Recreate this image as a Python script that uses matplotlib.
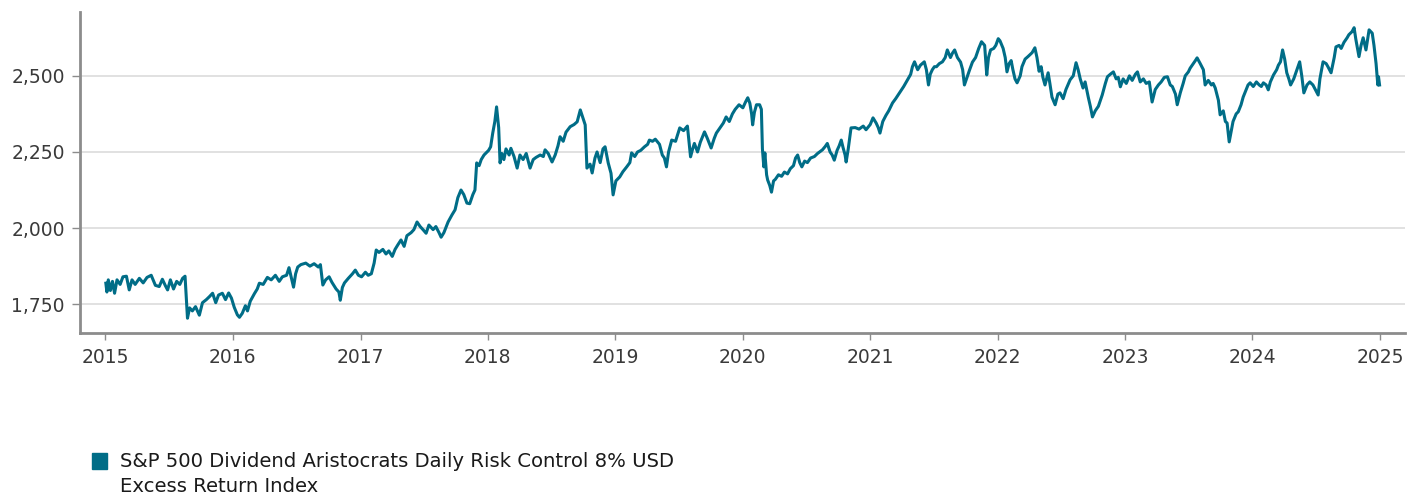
import matplotlib
matplotlib.use("Agg")
import matplotlib.pyplot as plt
import matplotlib.dates as mdates
import pandas as pd
from matplotlib.patches import Rectangle
from matplotlib.ticker import FuncFormatter, FixedLocator

LINE_COLOR = "#006d87"
LABEL = "S&P 500 Dividend Aristocrats Daily Risk Control 8% USD\nExcess Return Index"

# index level
dates = [
    "2015-01-02", "2015-01-05", "2015-01-09", "2015-01-15", "2015-01-21", "2015-01-27", "2015-02-03", "2015-02-12",
    "2015-02-20", "2015-03-02", "2015-03-10", "2015-03-18", "2015-03-27", "2015-04-08", "2015-04-19", "2015-04-30",
    "2015-05-12", "2015-05-24", "2015-06-04", "2015-06-13", "2015-06-22", "2015-06-28", "2015-07-06", "2015-07-15",
    "2015-07-24", "2015-08-02", "2015-08-10", "2015-08-17", "2015-08-24", "2015-08-30", "2015-09-07", "2015-09-16",
    "2015-09-27", "2015-10-06", "2015-10-17", "2015-10-26", "2015-11-04", "2015-11-13", "2015-11-21", "2015-12-02",
    "2015-12-11", "2015-12-20", "2015-12-28",
    "2016-01-05", "2016-01-14", "2016-01-20", "2016-01-28", "2016-02-06", "2016-02-12", "2016-02-20", "2016-03-03",
    "2016-03-11", "2016-03-17", "2016-03-28", "2016-04-09", "2016-04-20", "2016-05-02", "2016-05-13", "2016-05-22",
    "2016-06-03", "2016-06-10", "2016-06-23", "2016-06-29", "2016-07-05", "2016-07-14", "2016-07-28", "2016-08-09",
    "2016-08-21", "2016-09-02", "2016-09-08", "2016-09-15", "2016-09-23", "2016-10-03", "2016-10-11", "2016-10-23",
    "2016-10-31", "2016-11-04", "2016-11-10", "2016-11-16", "2016-11-27", "2016-12-09", "2016-12-17", "2016-12-26",
    "2017-01-04", "2017-01-15", "2017-01-23", "2017-02-01", "2017-02-09", "2017-02-15", "2017-02-23", "2017-03-06",
    "2017-03-15", "2017-03-23", "2017-04-02", "2017-04-10", "2017-04-18", "2017-04-27", "2017-05-06", "2017-05-14",
    "2017-05-26", "2017-06-03", "2017-06-12", "2017-06-21", "2017-06-29", "2017-07-08", "2017-07-16", "2017-07-28",
    "2017-08-05", "2017-08-14", "2017-08-20", "2017-08-28", "2017-09-09", "2017-09-20", "2017-09-29", "2017-10-07",
    "2017-10-16", "2017-10-24", "2017-11-02", "2017-11-10", "2017-11-19", "2017-11-25", "2017-11-30", "2017-12-07",
    "2017-12-13", "2017-12-21",
    "2018-01-03", "2018-01-09", "2018-01-15", "2018-01-21", "2018-01-26", "2018-02-01", "2018-02-05", "2018-02-10",
    "2018-02-16", "2018-02-22", "2018-03-03", "2018-03-08", "2018-03-17", "2018-03-26", "2018-04-03", "2018-04-12",
    "2018-04-21", "2018-05-02", "2018-05-11", "2018-05-19", "2018-05-31", "2018-06-09", "2018-06-14", "2018-06-23",
    "2018-07-04", "2018-07-13", "2018-07-21", "2018-07-27", "2018-08-05", "2018-08-13", "2018-08-25", "2018-09-05",
    "2018-09-14", "2018-09-23", "2018-10-01", "2018-10-07", "2018-10-12", "2018-10-21", "2018-10-27", "2018-11-04",
    "2018-11-10", "2018-11-19", "2018-11-27", "2018-12-03", "2018-12-12", "2018-12-20", "2018-12-26",
    "2019-01-03", "2019-01-14", "2019-01-23", "2019-02-03", "2019-02-12", "2019-02-17", "2019-02-26", "2019-03-06",
    "2019-03-15", "2019-03-26", "2019-04-04", "2019-04-09", "2019-04-18", "2019-04-26", "2019-05-08", "2019-05-16",
    "2019-05-22", "2019-05-28", "2019-06-03", "2019-06-12", "2019-06-23", "2019-07-05", "2019-07-16", "2019-07-27",
    "2019-08-05", "2019-08-11", "2019-08-16", "2019-08-25", "2019-09-02", "2019-09-14", "2019-09-22", "2019-10-03",
    "2019-10-12", "2019-10-18", "2019-10-29", "2019-11-07", "2019-11-15", "2019-11-24", "2019-12-03", "2019-12-11",
    "2019-12-22",
    "2020-01-02", "2020-01-10", "2020-01-16", "2020-01-22", "2020-01-27", "2020-01-30", "2020-02-04", "2020-02-10",
    "2020-02-19", "2020-02-24", "2020-02-27", "2020-03-02", "2020-03-05", "2020-03-10", "2020-03-13", "2020-03-19",
    "2020-03-24", "2020-03-30", "2020-04-04", "2020-04-13", "2020-04-22", "2020-04-30", "2020-05-09", "2020-05-17",
    "2020-05-26", "2020-06-01", "2020-06-07", "2020-06-13", "2020-06-19", "2020-06-27", "2020-07-05", "2020-07-14",
    "2020-07-25", "2020-08-03", "2020-08-11", "2020-08-17", "2020-08-25", "2020-08-31", "2020-09-08", "2020-09-14",
    "2020-09-20", "2020-09-28", "2020-10-04", "2020-10-10", "2020-10-15", "2020-10-21", "2020-10-24", "2020-10-30",
    "2020-11-07", "2020-11-19", "2020-11-30", "2020-12-12", "2020-12-20",
    "2021-01-01", "2021-01-09", "2021-01-18", "2021-01-24", "2021-01-29", "2021-02-06", "2021-02-15", "2021-02-23",
    "2021-03-06", "2021-03-15", "2021-03-26", "2021-04-07", "2021-04-18", "2021-04-27", "2021-05-02", "2021-05-08",
    "2021-05-17", "2021-05-25", "2021-06-05", "2021-06-11", "2021-06-17", "2021-06-22", "2021-06-28", "2021-07-04",
    "2021-07-10", "2021-07-18", "2021-07-27", "2021-08-04", "2021-08-10", "2021-08-19", "2021-08-25", "2021-08-31",
    "2021-09-08", "2021-09-17", "2021-09-23", "2021-09-28", "2021-10-07", "2021-10-13", "2021-10-21", "2021-10-30",
    "2021-11-08", "2021-11-16", "2021-11-25", "2021-12-01", "2021-12-06", "2021-12-12", "2021-12-21", "2021-12-27",
    "2022-01-03", "2022-01-08", "2022-01-17", "2022-01-23", "2022-01-28", "2022-02-03", "2022-02-09", "2022-02-14",
    "2022-02-20", "2022-02-26", "2022-03-07", "2022-03-12", "2022-03-21", "2022-03-29", "2022-04-10", "2022-04-18",
    "2022-04-24", "2022-04-30", "2022-05-06", "2022-05-11", "2022-05-17", "2022-05-26", "2022-05-31", "2022-06-06",
    "2022-06-15", "2022-06-23", "2022-06-29", "2022-07-08", "2022-07-16", "2022-07-28", "2022-08-06", "2022-08-14",
    "2022-08-20", "2022-08-26", "2022-09-03", "2022-09-09", "2022-09-18", "2022-09-24", "2022-09-30", "2022-10-08",
    "2022-10-17", "2022-10-28", "2022-11-06", "2022-11-12", "2022-11-20", "2022-11-29", "2022-12-07", "2022-12-13",
    "2022-12-19", "2022-12-27",
    "2023-01-05", "2023-01-14", "2023-01-22", "2023-01-31", "2023-02-06", "2023-02-14", "2023-02-23", "2023-03-03",
    "2023-03-12", "2023-03-20", "2023-03-29", "2023-04-07", "2023-04-15", "2023-04-24", "2023-05-03", "2023-05-11",
    "2023-05-17", "2023-05-26", "2023-05-31", "2023-06-09", "2023-06-17", "2023-06-23", "2023-07-02", "2023-07-07",
    "2023-07-16", "2023-07-22", "2023-07-27", "2023-08-05", "2023-08-14", "2023-08-19", "2023-08-28", "2023-09-06",
    "2023-09-11", "2023-09-17", "2023-09-26", "2023-10-01", "2023-10-10", "2023-10-16", "2023-10-21", "2023-10-27",
    "2023-11-02", "2023-11-07", "2023-11-16", "2023-11-22", "2023-11-30", "2023-12-06", "2023-12-12", "2023-12-20",
    "2023-12-26",
    "2024-01-04", "2024-01-13", "2024-01-21", "2024-01-27", "2024-02-02", "2024-02-10", "2024-02-16", "2024-02-22",
    "2024-03-02", "2024-03-11", "2024-03-16", "2024-03-22", "2024-03-28", "2024-04-03", "2024-04-09", "2024-04-15",
    "2024-04-20", "2024-04-29", "2024-05-08", "2024-05-16", "2024-05-22", "2024-05-28", "2024-06-06", "2024-06-14",
    "2024-06-23", "2024-07-02", "2024-07-08", "2024-07-13", "2024-07-22", "2024-07-31", "2024-08-05", "2024-08-14",
    "2024-08-23", "2024-08-28", "2024-09-06", "2024-09-12", "2024-09-20", "2024-09-29", "2024-10-04", "2024-10-13",
    "2024-10-19", "2024-10-24", "2024-11-02", "2024-11-08", "2024-11-14", "2024-11-22", "2024-12-01", "2024-12-10",
    "2024-12-15", "2024-12-21", "2024-12-26", "2024-12-28", "2024-12-31",
]

values = [
    1819, 1790, 1830, 1795, 1825, 1786, 1830, 1815, 1840, 1842, 1797, 1830, 1815, 1835, 1820, 1838,
    1845, 1812, 1808, 1832, 1810, 1797, 1830, 1800, 1825, 1815, 1835, 1842, 1704, 1738, 1728, 1742,
    1714, 1755, 1765, 1775, 1786, 1755, 1780, 1786, 1765, 1787, 1770,
    1740, 1715, 1707, 1720, 1745, 1728, 1760, 1785, 1800, 1819, 1815, 1838, 1830, 1845, 1825, 1840,
    1845, 1870, 1806, 1850, 1872, 1880, 1885, 1875, 1883, 1872, 1880, 1813, 1830, 1840, 1822, 1800,
    1790, 1763, 1805, 1820, 1835, 1850, 1862, 1845,
    1840, 1855, 1845, 1850, 1885, 1928, 1920, 1930, 1915, 1925, 1907, 1930, 1945, 1961, 1940, 1975,
    1985, 1995, 2020, 2005, 1995, 1983, 2010, 1995, 2005, 1985, 1970, 1985, 2020, 2043, 2060, 2100,
    2125, 2110, 2082, 2080, 2110, 2125, 2214, 2205, 2225, 2240,
    2255, 2267, 2312, 2350, 2398, 2330, 2214, 2245, 2225, 2260, 2240, 2262, 2235, 2197, 2240, 2225,
    2245, 2197, 2225, 2232, 2240, 2235, 2257, 2245, 2217, 2240, 2270, 2300, 2285, 2315, 2333, 2340,
    2349, 2388, 2360, 2339, 2197, 2210, 2181, 2230, 2250, 2215, 2260, 2267, 2214, 2180, 2109,
    2155, 2168, 2185, 2201, 2215, 2247, 2235, 2250, 2255, 2267, 2275, 2289, 2285, 2292, 2275, 2240,
    2230, 2201, 2250, 2289, 2285, 2329, 2320, 2335, 2234, 2260, 2278, 2250, 2282, 2316, 2295, 2263,
    2295, 2312, 2330, 2345, 2365, 2350, 2375, 2390, 2405,
    2395, 2415, 2428, 2410, 2375, 2339, 2380, 2405, 2405, 2390, 2260, 2201, 2247, 2175, 2158, 2140,
    2118, 2155, 2160, 2175, 2170, 2184, 2178, 2195, 2205, 2230, 2240, 2215, 2201, 2220, 2215, 2230,
    2235, 2245, 2252, 2257, 2268, 2278, 2250, 2240, 2223, 2255, 2270, 2289, 2265, 2240, 2217, 2260,
    2329, 2330, 2325, 2335, 2323,
    2340, 2362, 2345, 2330, 2312, 2350, 2370, 2385, 2411, 2425, 2444, 2465, 2487, 2505, 2530, 2546,
    2520, 2535, 2546, 2520, 2470, 2505, 2520, 2530, 2530, 2540, 2546, 2560, 2585, 2560, 2575, 2585,
    2560, 2545, 2520, 2470, 2500, 2520, 2545, 2560, 2590, 2612, 2600, 2503, 2560, 2585, 2590, 2600,
    2622, 2615, 2590, 2560, 2513, 2540, 2550, 2520, 2490, 2477, 2500, 2530, 2555, 2563, 2576, 2592,
    2560, 2515, 2530, 2495, 2470, 2510, 2475, 2430, 2405, 2440, 2444, 2425, 2455, 2487, 2500, 2543,
    2520, 2490, 2460, 2480, 2430, 2400, 2365, 2385, 2400, 2437, 2475, 2497, 2505, 2513, 2490, 2495,
    2464, 2490,
    2475, 2500, 2485, 2505, 2513, 2480, 2490, 2475, 2480, 2414, 2455, 2470, 2480, 2495, 2497, 2470,
    2465, 2440, 2405, 2445, 2475, 2500, 2513, 2525, 2540, 2550, 2559, 2540, 2520, 2470, 2485, 2470,
    2475, 2460, 2420, 2372, 2385, 2350, 2345, 2283, 2320, 2350, 2375, 2382, 2405, 2430, 2447, 2470,
    2477,
    2465, 2480, 2470, 2465, 2477, 2470, 2454, 2480, 2503, 2520, 2535, 2546, 2585, 2555, 2510, 2490,
    2470, 2490, 2520, 2546, 2500, 2444, 2470, 2480, 2470, 2450, 2437, 2490, 2546, 2540, 2530, 2510,
    2560, 2595, 2600, 2590, 2610, 2625, 2635, 2645, 2658, 2620, 2563, 2600, 2625, 2585, 2651, 2640,
    2600, 2540, 2470, 2497, 2470,
]

year_ticks = list(range(2015, 2026))
y_ticks = [1750, 2000, 2250, 2500]

plt.rcParams["font.family"] = ["DejaVu Sans"]

s = pd.Series(values, index=pd.to_datetime(dates))

fig = plt.figure(figsize=(14.19, 4.95), dpi=100)
ax = fig.add_axes([0.0564, 0.327, 0.934, 0.649])

ax.plot(s.index, s.values, color=LINE_COLOR, lw=2.2, solid_joinstyle="round", zorder=3)

ax.set_xlim(pd.Timestamp("2014-10-20"), pd.Timestamp("2025-03-15"))
ax.set_ylim(1655, 2710)

ax.xaxis.set_major_locator(FixedLocator([mdates.date2num(pd.Timestamp(f"{y}-01-01")) for y in year_ticks]))
ax.xaxis.set_major_formatter(mdates.DateFormatter("%Y"))
ax.set_yticks(y_ticks)
ax.yaxis.set_major_formatter(FuncFormatter(lambda v, _: f"{v:,.0f}"))

ax.grid(axis="y", color="#dedede", lw=1.3, zorder=0)
ax.grid(axis="x", visible=False)
for side in ("top", "right"):
    ax.spines[side].set_visible(False)
for side in ("left", "bottom"):
    ax.spines[side].set_color("#8c8c8c")
    ax.spines[side].set_linewidth(2)

ax.tick_params(axis="x", length=5, width=1, color="#8c8c8c", labelsize=13.5, labelcolor="#3a3a3a", pad=6)
ax.tick_params(axis="y", length=6, width=1, color="#8c8c8c", labelsize=13.5, labelcolor="#3a3a3a", pad=5)

# legend: square swatch plus two-line label, swatch level with the first line
fig.patches.append(Rectangle((92 / 1419, 1 - 469 / 495), 15 / 1419, 16 / 495,
                             transform=fig.transFigure, color=LINE_COLOR))
fig.text(120 / 1419, 1 - 452 / 495, LABEL, ha="left", va="top", fontsize=14.1,
         linespacing=1.42, color="#1a1a1a")

fig.savefig("out.png", dpi=100)
